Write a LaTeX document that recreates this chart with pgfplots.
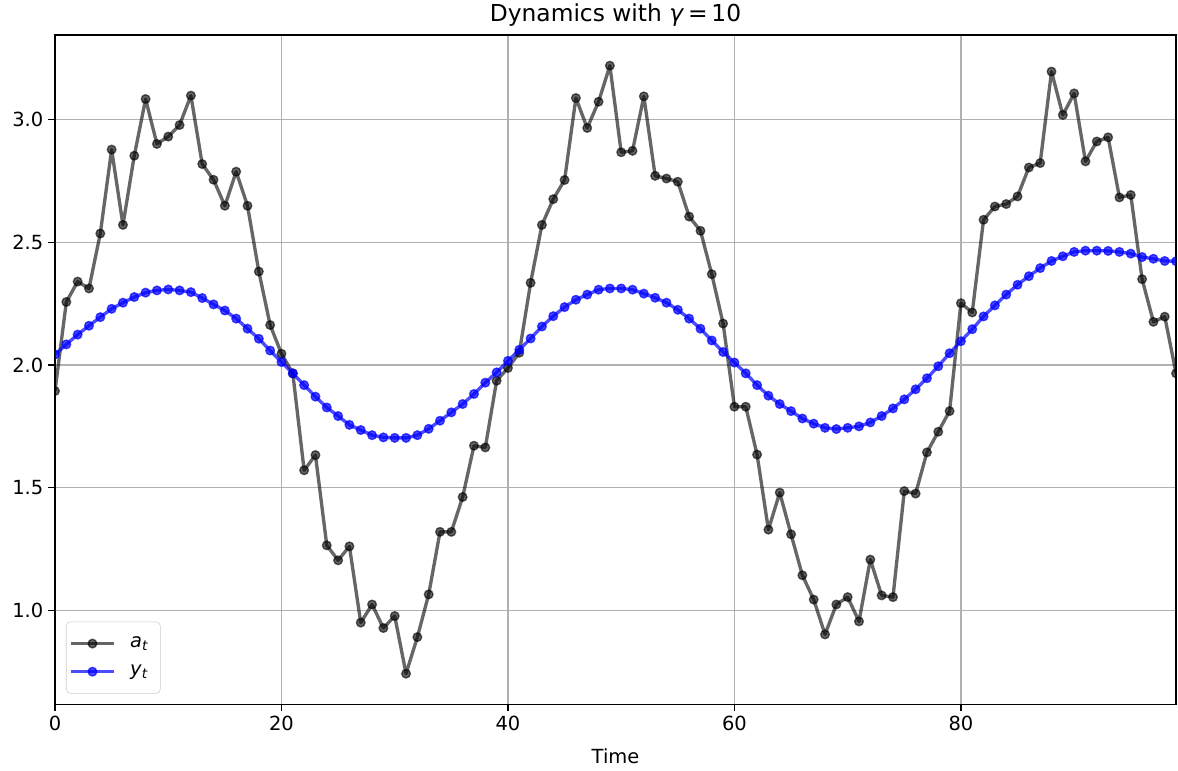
\documentclass[border=0pt]{standalone}
\usepackage{fontspec}
\setmainfont{DejaVu Sans}
\usepackage{pgfplots}
\usepackage{pgfplotstable}
\pgfplotsset{compat=1.18}

\definecolor{gridgray}{RGB}{176,176,176}
\definecolor{leggray}{RGB}{204,204,204}

% t, a_t (noisy), y_t (smooth)
\pgfplotstableread{
t a y
0 1.894 2.043
1 2.257 2.084
2 2.340 2.124
3 2.312 2.160
4 2.536 2.195
5 2.878 2.229
6 2.571 2.254
7 2.853 2.277
8 3.084 2.295
9 2.901 2.304
10 2.931 2.308
11 2.978 2.304
12 3.098 2.297
13 2.819 2.273
14 2.755 2.247
15 2.649 2.222
16 2.788 2.189
17 2.649 2.148
18 2.381 2.107
19 2.163 2.059
20 2.046 2.012
21 1.966 1.966
22 1.571 1.918
23 1.633 1.871
24 1.265 1.827
25 1.204 1.792
26 1.261 1.756
27 0.950 1.735
28 1.024 1.714
29 0.928 1.705
30 0.977 1.703
31 0.742 1.703
32 0.891 1.714
33 1.065 1.740
34 1.320 1.773
35 1.320 1.807
36 1.462 1.841
37 1.671 1.882
38 1.664 1.928
39 1.936 1.970
40 1.988 2.017
41 2.050 2.062
42 2.335 2.108
43 2.571 2.157
44 2.676 2.199
45 2.754 2.236
46 3.088 2.266
47 2.966 2.287
48 3.073 2.307
49 3.220 2.312
50 2.867 2.312
51 2.873 2.307
52 3.095 2.291
53 2.771 2.274
54 2.760 2.254
55 2.747 2.225
56 2.605 2.189
57 2.547 2.148
58 2.370 2.100
59 2.169 2.053
60 1.830 2.010
61 1.830 1.966
62 1.635 1.918
63 1.329 1.875
64 1.480 1.841
65 1.310 1.812
66 1.143 1.782
67 1.044 1.761
68 0.902 1.744
69 1.024 1.739
70 1.054 1.744
71 0.955 1.750
72 1.207 1.766
73 1.061 1.792
74 1.054 1.823
75 1.486 1.860
76 1.476 1.901
77 1.644 1.946
78 1.728 1.995
79 1.812 2.048
80 2.252 2.097
81 2.214 2.146
82 2.592 2.198
83 2.646 2.243
84 2.656 2.287
85 2.687 2.327
86 2.805 2.362
87 2.823 2.395
88 3.196 2.424
89 3.019 2.443
90 3.107 2.461
91 2.830 2.466
92 2.911 2.466
93 2.928 2.465
94 2.683 2.461
95 2.693 2.454
96 2.350 2.440
97 2.176 2.433
98 2.197 2.424
99 1.966 2.423
}\dyn

\begin{document}
\begin{tikzpicture}
\begin{axis}[
  width=807pt, height=482pt,
  scale only axis,
  xmin=0, xmax=99,
  ymin=0.616, ymax=3.345,
  clip mode=individual,
  clip marker paths=true,
  xtick={0,20,40,60,80},
  ytick={1.0,1.5,2.0,2.5,3.0},
  yticklabel style={/pgf/number format/.cd, fixed, fixed zerofill, precision=1},
  /pgf/number format/assume math mode=true,
  tick label style={font=\fontsize{14}{16}\selectfont, black},
  label style={font=\fontsize{14}{16}\selectfont},
  title style={font=\fontsize{16.8}{19}\selectfont,
    at={(axis description cs:0.5,1)}, anchor=base, inner sep=0pt, yshift=4pt},
  title={Dynamics with \textit{γ}\,=\,10},
  xlabel={Time},
  xlabel style={at={(axis description cs:0.5,0)}, anchor=base,
    inner sep=0pt, yshift=-42.3pt},
  xtick pos=left, ytick pos=left,
  tick align=outside,
  major tick length=4.9pt,
  every tick/.style={black, line width=1.1pt},
  axis line style={black, line width=1.1pt},
  grid=major,
  major grid style={gridgray, line width=1.1pt},
  legend cell align=left,
  legend style={at={(0.0098,0.0164)}, anchor=south west,
    draw=leggray, rounded corners=3pt, fill=white,
    fill opacity=0.8, text opacity=1, font=\fontsize{14}{16}\selectfont,
    row sep=8pt, inner xsep=2pt, inner ysep=9.5pt,
    nodes={inner sep=1.5pt}},
  legend image code/.code={
    \draw[mark repeat=2, mark phase=2, #1]
      plot coordinates {(0cm,0cm) (0.55cm,0cm) (1.1cm,0cm)};
    \path[draw=none] (1.1cm,0cm) -- (1.45cm,0cm);
  },
]
\addplot[black, opacity=0.6, line width=2.4pt, line join=round, mark=*,
  mark size=3.1pt, mark options={solid, line width=1pt}] table[x=t, y=a] {\dyn};
\addlegendentry{\textit{a}\textsubscript{\textit{t}}\hspace*{5pt}}
\addplot[blue, opacity=0.7, line width=2.4pt, line join=round, mark=*,
  mark size=3.1pt, mark options={solid, line width=1pt}] table[x=t, y=y] {\dyn};
\addlegendentry{\textit{y}\textsubscript{\textit{t}}\hspace*{5pt}}
\end{axis}
\path (current axis.south west) ++(-39.6pt,-47.5pt);
\path (current axis.north east) ++(1.4pt,25.2pt);
\end{tikzpicture}
\end{document}
